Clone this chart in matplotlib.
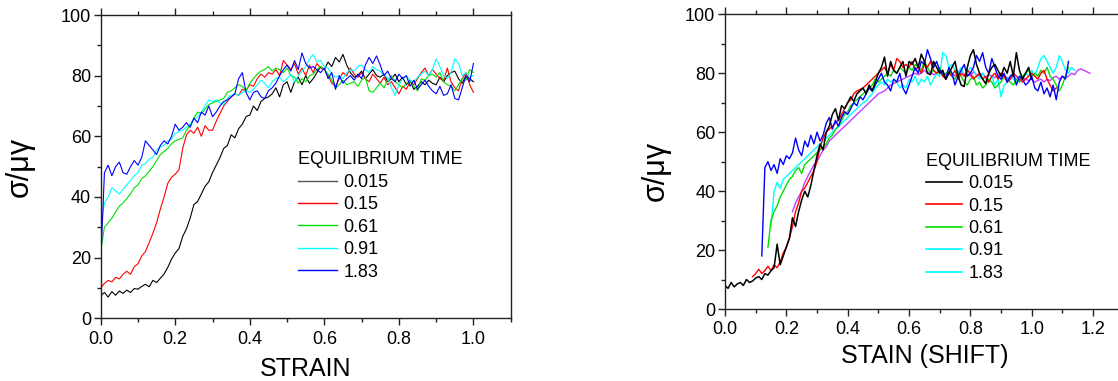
import numpy as np
import matplotlib
matplotlib.use("Agg")
import matplotlib.pyplot as plt
from matplotlib.lines import Line2D
from matplotlib.ticker import MultipleLocator

plt.rcParams['font.family'] = ['Liberation Sans', 'DejaVu Sans']

# ---------------- data ----------------
legend_title = "EQUILIBRIUM TIME"
labels = ["0.015", "0.15", "0.61", "0.91", "1.83"]

# Left panel: strain 0..1.0 step 0.01
left_x_start, left_x_step = 0.0, 0.01
left_black = [7.5, 8.5, 7, 8.8, 7.6, 9, 8.2, 9.3, 8.5, 9.8, 9.6,
              10.5, 11.2, 10.4, 12.5, 11.8, 13.2, 14.6, 16.8, 19.5, 21.5,
              23, 27, 29.5, 33, 37.5, 38.5, 41, 43.5, 45, 48,
              50.5, 53, 56, 57, 60.5, 59.5, 62.5, 64, 66.5, 67,
              70, 68.5, 71.5, 72.5, 73, 74, 76, 73, 77, 78,
              74.5, 78, 79.5, 77, 80, 77.5, 79, 81, 83, 82,
              84.5, 83, 86, 84.5, 87, 83.5, 81, 79.5, 80, 81.5,
              79, 80.5, 82, 80, 79.5, 80.5, 78, 79, 80.5, 78,
              79.5, 77, 78.5, 75.5, 76.5, 78, 77, 78.5, 77.5, 77,
              79.5, 78, 80, 81, 81.5, 79, 77.5, 80, 79, 78]
left_red = [10, 11.5, 12.5, 12, 13.5, 13, 14.5, 15.5, 14.5, 17, 18,
            20.5, 22, 25, 28, 31.5, 36, 40, 44.5, 46.5, 47.5,
            49, 56, 60.5, 62, 61, 63, 60, 63.5, 62, 62,
            65, 67.5, 70, 71.5, 73, 74, 73.5, 75.5, 75, 77,
            76.5, 79, 80.5, 79.5, 81, 80.5, 82, 80, 85, 83.5,
            82, 84, 80.5, 82.5, 80, 83.5, 81, 84, 82.5, 82,
            80, 77.5, 76.5, 79, 81, 80, 82.5, 80.5, 79.5, 81,
            79, 78, 80.5, 79, 77.5, 79.5, 77, 78, 76, 74,
            76.5, 75.5, 78, 77, 79, 81, 82.5, 80, 82, 80.5,
            79, 78.5, 82.5, 78, 76, 75, 79, 81, 77, 74.5]
left_green = [22, 30, 31.5, 33, 35, 37, 38, 39.5, 41, 43, 44,
              46, 47, 48.5, 50, 52, 54, 55, 56, 57.5, 58.5,
              59, 59.5, 62, 63.5, 66, 68, 67.5, 69, 70.5, 71,
              71.5, 72, 72.5, 74.5, 75, 76, 77, 76.5, 75, 77.5,
              79, 80.5, 81.5, 82, 83, 81.5, 82.5, 82, 81, 82.5,
              80, 79.5, 77.5, 79, 78, 80, 80.5, 82, 83, 82,
              80.5, 78.5, 76, 77, 78.5, 77, 77.5, 78, 76.5, 78.5,
              79.5, 75, 74.5, 76, 77.5, 76, 78.5, 80, 78, 77,
              76, 77.5, 78, 76.5, 75, 79, 78.5, 80, 80.5, 79.5,
              81, 78, 77, 76.5, 75, 77, 79, 78.5, 82, 81]
left_cyan = [30, 38, 40, 43, 42, 41, 42.5, 44, 45.5, 47, 48,
             50.5, 51, 52.5, 53, 55.5, 56.5, 57, 58.5, 59, 61,
             61.5, 62, 63, 64, 65.5, 66.5, 68, 70, 72, 71.5,
             72, 71, 70.5, 72.5, 73.5, 74, 73.5, 74.5, 75, 74.5,
             75.5, 77, 78.5, 77.5, 76, 78, 79, 79.5, 78, 79,
             80.5, 78, 80, 81.5, 83, 85.5, 87, 84.5, 85, 83,
             82.5, 80.5, 79.5, 80, 79, 81, 82, 81.5, 83, 83.5,
             82, 81, 83, 82, 81.5, 80, 79.5, 76, 73.5, 77,
             79, 80, 78.5, 78, 79.5, 80.5, 81.5, 80, 82, 85.5,
             83, 80, 79, 81, 85.5, 84, 80, 81, 79.5, 80]
left_blue = [18, 48, 50.5, 47, 50, 51.5, 48, 47.5, 50, 52, 50.5,
             53, 58.5, 57, 55.5, 54, 57, 58.5, 57.5, 60, 64,
             62, 63, 64.5, 63, 66, 64.5, 68, 67, 70, 66.5,
             68, 70, 71.5, 72, 73, 74, 79, 81, 74.5, 72,
             74.5, 75, 73, 72.5, 75, 76, 77.5, 80, 82, 83.5,
             81.5, 85, 82, 87.5, 84, 82.5, 83, 82, 81, 82.5,
             79, 81, 75.5, 80, 77.5, 79, 80, 78.5, 80.5, 79,
             83.5, 86, 84, 86.5, 83.5, 80, 81.5, 79, 78, 80.5,
             79, 80, 76.5, 78.5, 75.5, 77, 78.5, 76.5, 75, 74,
             76.5, 73.5, 74, 77, 72.5, 72, 76, 80, 78, 84]

# Right panel: shifted strain, each series has its own start, step 0.01
right_step = 0.01
right_black_start = 0.0
right_black = [8, 7, 9, 7.5, 8.5, 9, 8, 10, 9, 9.5, 10.5,
               11, 10, 12, 11.5, 13, 14, 22, 15, 18, 21,
               24, 31, 28, 33, 37, 40, 38, 42, 47, 52,
               56, 54, 60, 62, 66, 68, 64, 69, 68, 70,
               72, 70.5, 73, 74, 75, 73, 76, 74, 77, 80,
               82, 85.5, 79, 84, 81, 80, 82, 84, 79, 84,
               83, 85, 82, 86.5, 84, 80, 79.5, 84, 82, 80,
               81, 78, 80, 82, 84, 79, 76, 75.5, 82, 86,
               88, 83, 80, 78, 76.5, 80, 82, 83, 81, 79,
               82, 80, 84, 79, 87, 81, 78, 80, 82, 78]
right_red_start = 0.09
right_red = [11, 12, 13.5, 12, 13, 14.5, 13, 15, 14, 16,
             19, 21, 24, 28, 33, 36, 40, 41, 43, 45,
             47, 50, 55, 58, 60, 61, 62, 63, 64, 66,
             68, 70, 71, 73, 74, 74.5, 75, 76, 77, 78,
             79, 80, 81, 82, 80, 83, 81, 85, 84, 82,
             83, 82, 84, 81, 82, 80, 83, 82, 84, 81,
             80, 81, 79, 78, 80, 79, 81, 78, 80, 79,
             81, 80, 78, 79, 80, 78, 79, 77, 79, 80,
             78, 80, 79, 77, 78, 80, 79, 78, 77, 78,
             79, 80, 79, 78, 80, 81, 78, 76, 74, 75]
right_green_start = 0.14
right_green = [21, 30, 33, 35, 38, 40, 42, 44, 45, 47,
               48, 46, 49, 50, 51, 52, 53, 54, 55, 56,
               58, 59, 61, 62, 64, 66, 67, 69, 70, 71,
               72, 73, 74, 75, 76, 78, 77, 78, 79, 80,
               79, 81, 80, 82, 81, 80, 82, 81, 83, 82,
               81, 84, 82, 80, 81, 80, 82, 79, 80, 81,
               79, 78, 80, 79, 77, 76, 78, 79, 76, 77,
               75, 76, 78, 77, 75, 76, 77, 79, 78, 77,
               76, 78, 77, 79, 80, 81, 79, 80, 79, 81,
               80, 82, 79, 78, 76, 74, 76, 79, 82]
right_cyan_start = 0.15
right_cyan = [28, 40, 43, 41, 44, 45, 46, 47, 48, 49,
              50, 51, 52, 53, 54, 55, 56, 57, 58, 59,
              60, 61, 62, 63, 64, 65, 66, 67, 68, 69,
              70, 70.5, 72, 73, 75, 76, 77, 76, 78, 77,
              78, 77, 75, 76, 75, 78, 77, 79, 76, 78,
              77, 79, 76, 78, 80, 79, 87, 86, 82, 83,
              81, 80, 82, 79, 80, 82, 81, 79, 78, 80,
              78, 77, 79, 76, 78, 72, 76, 77, 79, 78,
              77, 79, 78, 80, 79, 81, 79, 82, 85, 86,
              84, 82, 80, 82, 86, 84, 81, 80, 82, 81]
right_blue_start = 0.12
right_blue = [18, 48, 50, 47, 49, 46, 51, 49, 52, 51,
              53, 58, 54, 52, 57, 55, 59, 56, 60, 57,
              59, 63, 65, 61, 64, 62, 65, 67, 66, 68,
              70, 69, 72, 71, 73, 75, 74, 76, 78, 80,
              77, 76, 74, 78, 77, 80, 75, 73, 76, 79,
              82, 80, 84, 83, 88, 85, 82, 84, 81, 80,
              78, 82, 80, 76, 79, 81, 83, 79, 80, 82,
              86, 84, 87, 82, 80, 85, 82, 79, 78, 80,
              77, 79, 80, 76, 79, 78, 76, 77, 79, 75,
              74, 77, 73, 75, 72, 76, 71, 77, 79, 78,
              84]
right_magenta_start = 0.22
right_magenta = [33, 36, 38, 40, 43, 45, 47, 49, 50, 52,
                 54, 55, 57, 58, 59, 60, 61, 62, 63, 64,
                 65, 66, 67, 68, 69, 70, 71, 72, 73, 73.5,
                 74, 75, 76, 76.5, 77, 77.5, 78, 78.5, 79, 79.5,
                 80, 79.5, 80, 81, 80, 80.5, 79.5, 80, 81, 80,
                 79.5, 80.5, 80, 79, 80.5, 81, 79.5, 80, 79, 80.5,
                 79.5, 79, 80, 78.5, 79.5, 79, 78.5, 79.5, 78, 79,
                 78.5, 78, 79, 78, 77.5, 78.5, 78, 77.5, 78, 77,
                 77.5, 78, 77, 78, 77.5, 78.5, 79, 78, 79, 78.5,
                 79, 80, 79.5, 81, 81.5, 81, 80.5, 80]

# ---------------- styles ----------------
C_BLACK = "#000000"
C_RED = "#ff0000"
C_GREEN = "#00e000"
C_CYAN = "#00ffff"
C_BLUE = "#0000ff"
C_MAG = "#c040ff"

fig = plt.figure(figsize=(11.18, 3.81), dpi=100)

def xs(start, step, vals):
    return start + step * np.arange(len(vals))

def style_axes(ax, xmax, xmajor):
    ax.set_ylim(0, 100)
    ax.set_xlim(0, xmax)
    ax.xaxis.set_major_locator(MultipleLocator(xmajor))
    ax.xaxis.set_minor_locator(MultipleLocator(xmajor / 2))
    ax.yaxis.set_major_locator(MultipleLocator(20))
    ax.yaxis.set_minor_locator(MultipleLocator(10))
    ax.tick_params(axis='both', which='both', direction='out', colors='#222222',
                   labelcolor='black', labelsize=13)
    ax.tick_params(axis='x', which='both', top=True, bottom=True)
    ax.tick_params(axis='y', which='both', left=True, right=False)
    ax.tick_params(which='major', length=5, width=1)
    ax.tick_params(which='minor', length=3, width=1)
    ax.tick_params(axis='x', pad=4)
    ax.tick_params(axis='y', pad=2)
    for s in ax.spines.values():
        s.set_color('#222222')
        s.set_linewidth(1)
    ax.xaxis.set_major_formatter(matplotlib.ticker.FormatStrFormatter('%.1f'))

# Left panel
axL = fig.add_axes([100.7 / 1118, 1 - 318.3 / 381, 410 / 1118, (318.3 - 15) / 381])
lx = xs(left_x_start, left_x_step, left_black)
axL.plot(lx, left_black, color=C_BLACK, lw=0.8)
axL.plot(lx, left_red, color=C_RED, lw=0.8)
axL.plot(lx, left_green, color=C_GREEN, lw=0.8)
axL.plot(lx, left_cyan, color=C_CYAN, lw=0.8)
axL.plot(lx, left_blue, color=C_BLUE, lw=0.8)
style_axes(axL, 1.1, 0.2)
axL.set_xlabel("STRAIN", fontsize=18)
axL.set_ylabel("σ/μγ", fontsize=22)
axL.xaxis.set_label_coords(0.5, -0.128)
axL.yaxis.set_label_coords(-0.16, 0.5)
hL = [Line2D([], [], color=c, lw=1) for c in ["#555555", C_RED, C_GREEN, C_CYAN, C_BLUE]]
legL = axL.legend(hL, labels, title=legend_title, frameon=False, loc='upper left',
                  bbox_to_anchor=(0.48, 0.55), fontsize=13, title_fontsize=13,
                  handlelength=2.2, handletextpad=0.33, labelspacing=0.3,
                  borderpad=0, borderaxespad=0, alignment='left')

# Right panel
right_w = 1.3 * 306.7
axR = fig.add_axes([725 / 1118, 1 - 309 / 381, right_w / 1118, (309 - 14.3) / 381])
axR.plot(xs(right_magenta_start, right_step, right_magenta), right_magenta, color=C_MAG, lw=1)
axR.plot(xs(right_cyan_start, right_step, right_cyan), right_cyan, color=C_CYAN, lw=1)
axR.plot(xs(right_green_start, right_step, right_green), right_green, color=C_GREEN, lw=1)
axR.plot(xs(right_red_start, right_step, right_red), right_red, color=C_RED, lw=1)
axR.plot(xs(right_blue_start, right_step, right_blue), right_blue, color=C_BLUE, lw=1)
axR.plot(xs(right_black_start, right_step, right_black), right_black, color=C_BLACK, lw=1.1)
style_axes(axR, 1.3, 0.2)
axR.set_xlabel("STAIN (SHIFT)", fontsize=18)
axR.set_ylabel("σ/μγ", fontsize=22)
axR.xaxis.set_label_coords(0.5, -0.12)
axR.yaxis.set_label_coords(-0.135, 0.47)
hR = [Line2D([], [], color=c, lw=1.2) for c in [C_BLACK, C_RED, C_GREEN, C_CYAN, C_CYAN]]
legR = axR.legend(hR, labels, title=legend_title, frameon=False, loc='upper left',
                  bbox_to_anchor=(0.505, 0.53), fontsize=13, title_fontsize=13,
                  handlelength=2.0, handletextpad=0.33, labelspacing=0.3,
                  borderpad=0, borderaxespad=0, alignment='left')

fig.savefig("out.png", dpi=100)
